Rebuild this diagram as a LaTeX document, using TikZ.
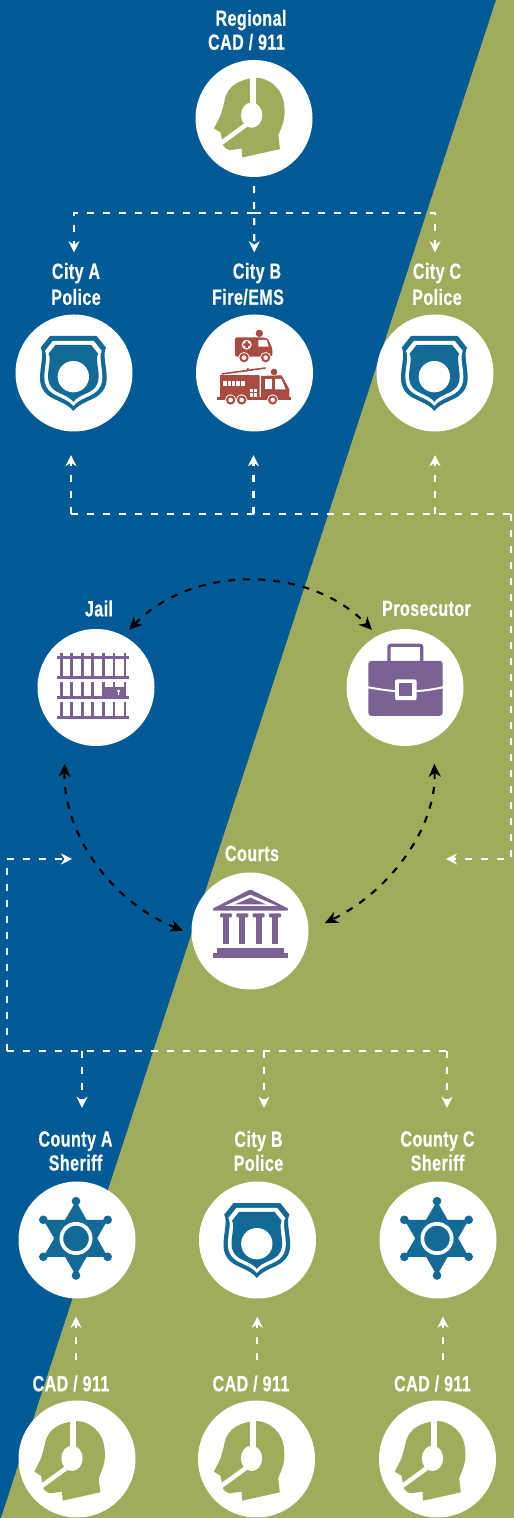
\documentclass[tikz,border=0pt]{standalone}
\usepackage{fontspec}
\setmainfont{Liberation Sans}[FakeStretch=0.73,LetterSpace=2,BoldFeatures={FakeBold=0.4}]
\usetikzlibrary{arrows.meta}

\definecolor{bgblue}{RGB}{0,90,150}
\definecolor{bggreen}{RGB}{161,171,92}
\definecolor{shieldblue}{RGB}{20,106,150}
\definecolor{jailpurple}{RGB}{122,98,146}
\definecolor{truckred}{RGB}{170,75,65}

\tikzset{icon/.style={shift={(#1)},x=.3333pt,y=-.3333pt}}

\newcommand{\iconHead}[3]{
  \begin{scope}[icon=#1,shift={(#2,#3)}]
    \fill[bggreen] (-35,117) -- (78,92) -- (73,50) .. controls (85,20) and (95,0) .. (91,-35)
      .. controls (88,-90) and (45,-122) .. (6,-122) -- (-12,-120)
      .. controls (-55,-112) and (-85,-90) .. (-90,-45) -- (-100,-10) -- (-120,30) -- (-100,42)
      -- (-97,58) -- (-92,82) .. controls (-85,90) .. (-72,95) -- (-37,90) -- cycle;
    \fill[white] (-12,-130) rectangle (6,-40);
    \fill[white] (-7,-10) ellipse [x radius=32,y radius=38];
    \draw[white,line width=4.5pt] (-25,20) -- (-102,76);
  \end{scope}
}

\newcommand{\shieldpath}{(-70,-111) -- (70,-111) -- (98,-76) .. controls (87,-58) and (100,-20) .. (100,15)
  .. controls (100,40) and (90,55) .. (78,65) .. controls (60,82) and (20,88) .. (0,114)
  .. controls (-20,88) and (-60,82) .. (-78,65) .. controls (-90,55) and (-100,40) .. (-100,15)
  .. controls (-100,-20) and (-87,-58) .. (-98,-76) -- cycle}

\newcommand{\iconBadge}[1]{
  \begin{scope}[icon=#1,shift={(-2,0)}]
    \fill[shieldblue] \shieldpath;
    \fill[white,scale=.87] \shieldpath;
    \fill[shieldblue,scale=.76] \shieldpath;
    \fill[white] (0,11) circle [radius=47];
  \end{scope}
}

\newcommand{\iconStar}[1]{
  \begin{scope}[icon=#1,shift={(-231,-211.5)}]
    \fill[shieldblue] (228,95) -- (130,262) -- (323,262) -- cycle;
    \fill[shieldblue] (228,318) -- (130,151) -- (323,151) -- cycle;
    \foreach \x/\y in {228/95,228/318,130/151,323/151,130/262,323/262}
      \fill[shieldblue] (\x,\y) circle [radius=13];
    \draw[white,line width=3.7pt] (228,207) circle [radius=44];
  \end{scope}
}

\newcommand{\iconTrucks}[1]{
  \begin{scope}[icon=#1,shift={(-763.5,-219)}]
    % ambulance
    \fill[truckred] (778,100) circle [radius=11];
    \fill[truckred,rounded corners=1.5pt] (705,112) -- (785,112) -- (803,115) -- (817,145) -- (817,170) -- (705,170) -- cycle;
    \fill[white] (775,120) -- (800,120) -- (806,140) -- (775,140) -- cycle;
    \fill[white] (740,134) circle [radius=15];
    \fill[truckred] (736,124) rectangle (744,144) (730,130) rectangle (750,138);
    % fire truck
    \draw[truckred,line width=1.6pt] (665,222) -- (797,204);
    \draw[truckred,line width=1.2pt] (738,215) -- (745,204);
    \fill[truckred] (822,216) circle [radius=10];
    \fill[truckred] (660,226) rectangle (778,296);
    \fill[truckred] (778,228) -- (845,226) -- (868,268) -- (868,296) -- (778,296) -- cycle;
    \fill[truckred] (650,292) rectangle (872,300);
    \fill[white] (825,237) -- (844,237) -- (857,268) -- (825,268) -- cycle;
    \fill[white] (796,237) rectangle (816,266);
    \fill[white] (779,228) rectangle (783,292);
    \fill[white] (668,242) rectangle (735,259);
    \foreach \x in {680,693,706,719}
      \fill[truckred] (\x,242) rectangle (\x+3,259);
    \fill[white] (750,266) rectangle (772,290);
    \draw[truckred,line width=.6pt] (761,266) -- (761,290) (750,278) -- (772,278);
    % wheels
    \foreach \x/\y in {732/173,797/173,692/300,725/300,818/300} {
      \fill[white] (\x,\y) circle [radius=17];
      \fill[truckred] (\x,\y) circle [radius=14];
      \fill[white] (\x,\y) circle [radius=7];
    }
  \end{scope}
}

\newcommand{\iconJail}[1]{
  \begin{scope}[icon=#1,shift={(-228,-202)},jailpurple]
    \foreach \y in {113,172,232,292}
      \fill (112,\y-5) rectangle (327,\y+5);
    \foreach \x in {124,155,187,218,250,282,315} {
      \fill (\x-4,100) rectangle (\x+4,172);
      \fill (\x-4,185) rectangle (\x+4,232);
      \fill (\x-4,245) rectangle (\x+4,292);
    }
    \fill (250,200) rectangle (319,232);
    \fill[white] (296,213) circle [radius=5];
    \fill[white] (294,213) rectangle (298,226);
  \end{scope}
}

\newcommand{\iconCase}[1]{
  \begin{scope}[icon=#1,shift={(-225,-202)}]
    \draw[jailpurple,line width=3.3pt,rounded corners=2pt] (177,125) -- (177,75) -- (275,75) -- (275,125);
    \fill[jailpurple,rounded corners=3pt] (115,122) rectangle (338,287);
    \draw[white,line width=2pt] (112,201) .. controls (150,208) and (180,212) .. (200,213);
    \draw[white,line width=2pt] (255,213) .. controls (280,212) and (310,208) .. (340,201);
    \fill[white,rounded corners=2pt] (195,178) rectangle (260,240);
    \fill[jailpurple] (208,190) rectangle (246,228);
  \end{scope}
}

\newcommand{\iconCourt}[1]{
  \begin{scope}[icon=#1,shift={(-210,-213)},jailpurple]
    \fill[rounded corners=1pt] (211,88) -- (325,146) -- (325,152) -- (98,152) -- (98,146) -- cycle;
    \fill[white] (211,104) -- (292,138) -- (133,138) -- cycle;
    \fill (211,113) -- (258,133) -- (165,133) -- cycle;
    \foreach \x in {138,187,236,285} {
      \fill[rounded corners=1pt] (\x-18,160) rectangle (\x+18,172);
      \fill (\x-9,170) rectangle (\x+9,252);
    }
    \fill (112,264) rectangle (312,280);
    \fill (98,280) rectangle (325,295);
  \end{scope}
}

\begin{document}
\begin{tikzpicture}[x=1pt,y=1pt]

    \tikzstyle{hub}=[circle, fill=white, minimum size=117pt, inner sep=0pt]
    \tikzstyle{tag}=[text=white, align=center, inner sep=0pt,
      font=\fontsize{22}{24}\selectfont\bfseries]
    \tikzstyle{wlink}=[white, line width=2.1pt, dash pattern=on 7pt off 9pt]
    \tikzstyle{wtip}=[wlink, -{Stealth[length=11pt,width=11pt,inset=3.5pt]}]
    \tikzstyle{blink}=[black, line width=2.1pt, dash pattern=on 7pt off 8pt,
      {Stealth[length=13pt,width=12pt,inset=4pt]}-{Stealth[length=13pt,width=12pt,inset=4pt]}]

    \useasboundingbox (0,0) rectangle (514,1518);
    \fill[bgblue] (0,0) rectangle (514,1518);
    \fill[bggreen] (1,0) -- (514,0) -- (514,1518) -- (496,1518) -- cycle;

    \node[hub] (regional) at (254,1399.5) {};
    \node[hub] (cityA) at (74,1145) {};
    \node[hub,node distance=180.5pt] (cityB) [right of=cityA] {};
    \node[hub,node distance=180.5pt] (cityC) [right of=cityB] {};
    \node[hub] (jail) at (96,830.5) {};
    \node[hub,node distance=309pt] (prosecutor) [right of=jail] {};
    \node[hub] (courts) at (250,587) {};
    \node[hub] (countyA) at (77,278) {};
    \node[hub,node distance=180.5pt] (cityBpol) [right of=countyA] {};
    \node[hub,node distance=180.5pt] (countyC) [right of=cityBpol] {};
    \node[hub] (cadA) at (77,59) {};
    \node[hub,node distance=179.5pt] (cadB) [right of=cadA] {};
    \node[hub,node distance=181pt] (cadC) [right of=cadB] {};

    \iconHead{regional}{0}{0}
    \iconBadge{cityA}
    \iconTrucks{cityB}
    \iconBadge{cityC}
    \iconJail{jail}
    \iconCase{prosecutor}
    \iconCourt{courts}
    \iconStar{countyA}
    \iconBadge{cityBpol}
    \iconStar{countyC}
    \iconHead{cadA}{-8}{8}
    \iconHead{cadB}{-8}{8}
    \iconHead{cadC}{-8}{8}

    \node[tag,node distance=88.5pt,xshift=-7.5pt] [above of=regional] {\hspace*{9pt}Regional\\CAD / 911};
    \node[tag,node distance=89pt,xshift=2pt] [above of=cityA] {City A\\[2pt]Police};
    \node[tag,node distance=89pt,xshift=-6.5pt] [above of=cityB] {\hspace*{18pt}City B\\[2pt]Fire/EMS};
    \node[tag,node distance=89pt,xshift=2pt] [above of=cityC] {City C\\[2pt]Police};
    \node[tag,node distance=79pt,xshift=3pt] [above of=jail] {Jail};
    \node[tag,node distance=79pt,xshift=21.5pt] [above of=prosecutor] {Prosecutor};
    \node[tag,node distance=77.5pt,xshift=2pt] [above of=courts] {Courts};
    \node[tag,node distance=89pt,xshift=-1.5pt] [above of=countyA] {County A\\Sheriff};
    \node[tag,node distance=89pt,xshift=1pt] [above of=cityBpol] {City B\\Police};
    \node[tag,node distance=89pt,xshift=-.5pt] [above of=countyC] {County C\\Sheriff};
    \node[tag,node distance=75.5pt,xshift=-6pt] [above of=cadA] {CAD / 911};
    \node[tag,node distance=75.5pt,xshift=-5.5pt] [above of=cadB] {CAD / 911};
    \node[tag,node distance=75.5pt,xshift=-5pt] [above of=cadC] {CAD / 911};

    \coordinate (rbus) at (254,1305);
    \coordinate (pbusA) at (71,1004);
    \coordinate (pbusB) at (253.5,1004);
    \coordinate (pbusC) at (435,1004);
    \coordinate (pbusR) at (511,1004);
    \coordinate (courtsR) at (446,659);
    \coordinate (courtsL) at (72,659);
    \coordinate (sbusL) at (7,467);
    \coordinate (sbusA) at (82,467);
    \coordinate (sbusB) at (264,467);
    \coordinate (sbusC) at (447,467);

    \draw[wtip,shorten <=9pt,shorten >=62pt] (regional) -- (cityB);
    \draw[wtip,shorten >=62pt] (rbus) -| (cityA);
    \draw[wtip,shorten >=62pt] (rbus) -| (cityC);

    \draw[wlink] (pbusA) -- (pbusR);
    \draw[wtip,shorten >=23.5pt] (pbusA) -- (pbusA |- cityA.south);
    \draw[wtip,shorten >=23.5pt] (pbusB) -- (pbusB |- cityB.south);
    \draw[wtip,shorten >=23.5pt] (pbusC) -- (pbusC |- cityC.south);
    \draw[wtip] (pbusR) |- (courtsR);

    \draw[wlink] (sbusL) -- (sbusC);
    \draw[wtip] (sbusL) |- (courtsL);
    \draw[wtip,shorten >=73.5pt] (sbusA) -- (sbusA |- countyA.north);
    \draw[wtip,shorten >=73.5pt] (sbusB) -- (sbusB |- cityBpol.north);
    \draw[wtip,shorten >=73.5pt] (sbusC) -- (sbusC |- countyC.north);

    \draw[wtip,shorten <=40pt,shorten >=18pt] ([xshift=-1pt]cadA.north) -- ([xshift=-1pt]countyA.south);
    \draw[wtip,shorten <=40pt,shorten >=18pt] ([xshift=.8pt]cadB.north) -- ([xshift=-.2pt]cityBpol.south);
    \draw[wtip,shorten <=40pt,shorten >=18pt] ([xshift=5.5pt]cadC.north) -- ([xshift=5pt]countyC.south);

    \draw[blink,shorten <=8pt,shorten >=8pt] (jail.62) to[out=46,in=134] (prosecutor.118);
    \draw[blink,shorten <=26pt,shorten >=9pt] (jail.239) to[out=-92,in=158] (courts.183);
    \draw[blink,shorten <=25pt,shorten >=18pt] (prosecutor.299) to[out=-88,in=26] (courts.0);
  \end{tikzpicture}
\end{document}
